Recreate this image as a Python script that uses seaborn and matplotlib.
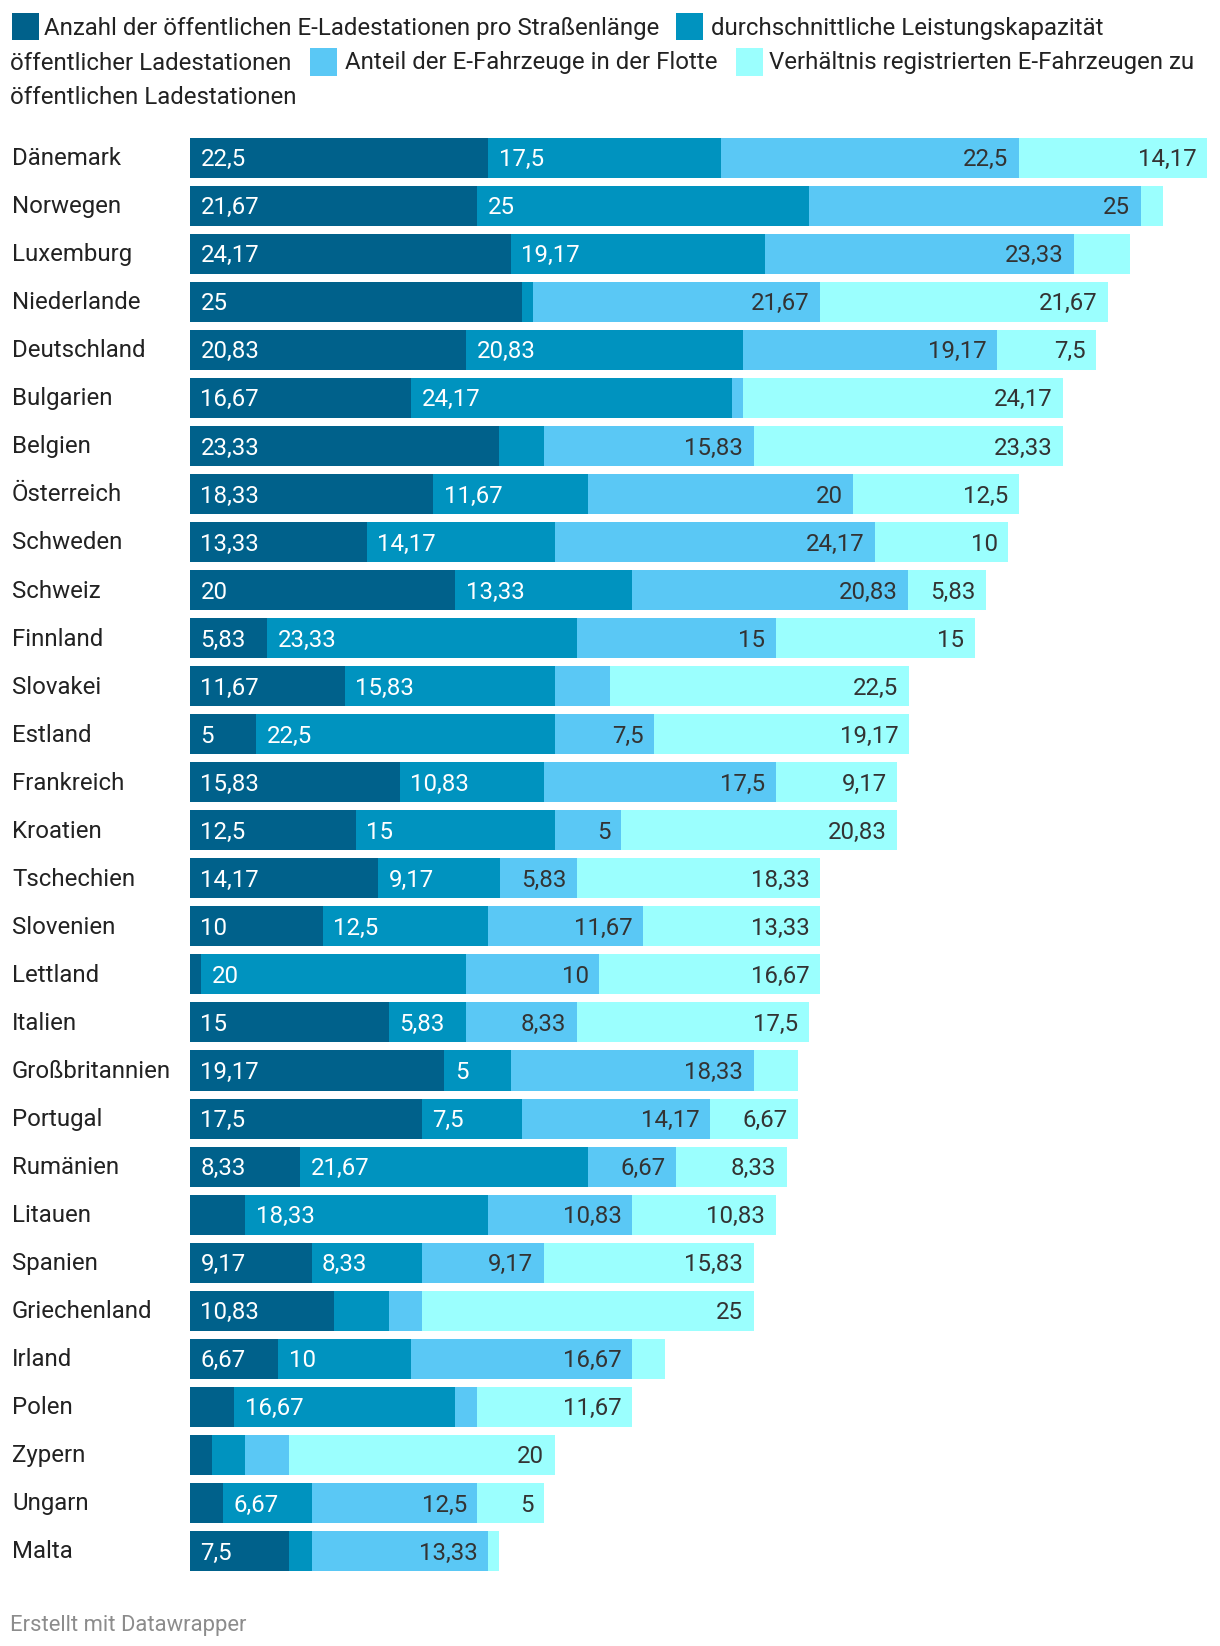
import numpy as np
import pandas as pd
import seaborn as sns
import matplotlib.pyplot as plt
from matplotlib.patches import Rectangle
from matplotlib import transforms

countries = ["Dänemark", "Norwegen", "Luxemburg", "Niederlande", "Deutschland", "Bulgarien",
             "Belgien", "Österreich", "Schweden", "Schweiz", "Finnland", "Slovakei", "Estland",
             "Frankreich", "Kroatien", "Tschechien", "Slovenien", "Lettland", "Italien",
             "Großbritannien", "Portugal", "Rumänien", "Litauen", "Spanien", "Griechenland",
             "Irland", "Polen", "Zypern", "Ungarn", "Malta"]

ladestationen = [22.5, 21.67, 24.17, 25, 20.83, 16.67, 23.33, 18.33, 13.33, 20, 5.83, 11.67, 5,
                 15.83, 12.5, 14.17, 10, 0.83, 15, 19.17, 17.5, 8.33, 4.17, 9.17, 10.83, 6.67,
                 3.33, 1.67, 2.5, 7.5]
leistung = [17.5, 25, 19.17, 0.83, 20.83, 24.17, 3.33, 11.67, 14.17, 13.33, 23.33, 15.83, 22.5,
            10.83, 15, 9.17, 12.5, 20, 5.83, 5, 7.5, 21.67, 18.33, 8.33, 4.17, 10, 16.67, 2.5,
            6.67, 1.67]
anteil = [22.5, 25, 23.33, 21.67, 19.17, 0.83, 15.83, 20, 24.17, 20.83, 15, 4.17, 7.5, 17.5, 5,
          5.83, 11.67, 10, 8.33, 18.33, 14.17, 6.67, 10.83, 9.17, 2.5, 16.67, 1.67, 3.33, 12.5,
          13.33]
verhaeltnis = [14.17, 1.67, 4.17, 21.67, 7.5, 24.17, 23.33, 12.5, 10, 5.83, 15, 22.5, 19.17,
               9.17, 20.83, 18.33, 13.33, 16.67, 17.5, 3.33, 6.67, 8.33, 10.83, 15.83, 25, 2.5,
               11.67, 20, 5, 0.83]

colors = ["#00618b", "#0093bf", "#5ac8f5", "#9bfffe"]
label_colors = ["white", "white", "#333333", "#333333"]

df = pd.DataFrame({"land": countries, "s1": ladestationen, "s2": leistung,
                   "s3": anteil, "s4": verhaeltnis})
vals = df[["s1", "s2", "s3", "s4"]].to_numpy()
cum = np.cumsum(vals, axis=1)

sns.set_style("white")
plt.rcParams['font.family'] = ['Roboto', 'DejaVu Sans']
FS = 17.3

W, H = 1220, 1646
fig = plt.figure(figsize=(W / 100, H / 100), dpi=100)
ax = fig.add_axes([190 / W, 1 - 1575 / H, 1017 / W, 1441.4 / H])

# stacked bars: draw cumulative totals from the outermost layer inwards
for k in range(3, -1, -1):
    d = pd.DataFrame({"land": countries, "x": cum[:, k]})
    sns.barplot(data=d, x="x", y="land", order=countries, orient="h", color=colors[k],
                saturation=1, width=0.833, linewidth=0, ax=ax)

ax.set_xlim(0, cum[0, 3])
ax.set_ylim(29.5, -0.5)
ax.axis("off")

# value labels
for i in range(len(countries)):
    for k in range(4):
        v = vals[i, k]
        if v < 4.9:
            continue
        txt = f"{v:g}".replace(".", ",")
        left = cum[i, k] - v
        if k < 2:
            ax.annotate(txt, (left, i), xytext=(7.5, -1.5), textcoords="offset points",
                        ha="left", va="center", color=label_colors[k], fontsize=FS)
        else:
            ax.annotate(txt, (cum[i, k], i), xytext=(-7.5, -1.5), textcoords="offset points",
                        ha="right", va="center", color=label_colors[k], fontsize=FS)

# country names
trans = transforms.blended_transform_factory(fig.transFigure, ax.transData)
for i, c in enumerate(countries):
    ax.text(12 / W, i + 0.02, c, transform=trans, ha="left", va="center",
            fontsize=FS, color="#222222")

# legend (flowing text with colour squares)
def fx(x):
    return x / W

def fy(y):
    return 1 - y / H

def square(x, y, color):
    fig.patches.append(Rectangle((fx(x), fy(y + 27)), 27 / W, 27 / H, transform=fig.transFigure,
                                 facecolor=color, edgecolor="none"))

square(12, 13, colors[0])
fig.text(fx(44), fy(28), "Anzahl der öffentlichen E-Ladestationen pro Straßenlänge",
         va="center", fontsize=FS, color="#222222")
square(676, 13, colors[1])
fig.text(fx(711), fy(28), "durchschnittliche Leistungskapazität",
         va="center", fontsize=FS, color="#222222")
fig.text(fx(10), fy(63), "öffentlicher Ladestationen", va="center", fontsize=FS, color="#222222")
square(310, 48.5, colors[2])
fig.text(fx(345), fy(63), "Anteil der E-Fahrzeuge in der Flotte",
         va="center", fontsize=FS, color="#222222")
square(736, 48.5, colors[3])
fig.text(fx(769), fy(63), "Verhältnis registrierten E-Fahrzeugen zu",
         va="center", fontsize=FS, color="#222222")
fig.text(fx(10), fy(98), "öffentlichen Ladestationen", va="center", fontsize=FS, color="#222222")

fig.text(fx(10), fy(1625), "Erstellt mit Datawrapper", va="center", fontsize=15.8,
         color="#8c8c8c")

plt.savefig("out.png", dpi=100)
